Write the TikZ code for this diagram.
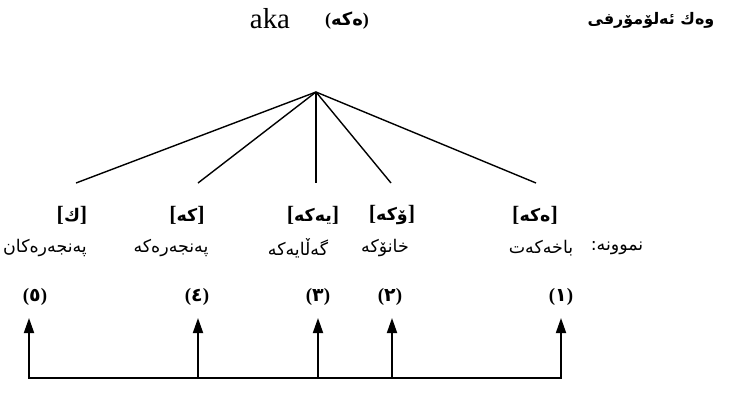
\documentclass[tikz,border=0pt]{standalone}
\usepackage{fontspec}
\setmainfont{Liberation Serif}
\newfontfamily\ar[Script=Arabic]{DejaVu Sans}
\TeXXeTstate=1
\usetikzlibrary{arrows.meta}
\tikzset{
  tree/.style={line width=1.4bp},
  arr/.style={line width=1.8bp,-{Triangle[width=10bp,length=15bp]}},
  base/.style={line width=1.8bp},
  word/.style={inner sep=0pt,font=\fontsize{17.5}{20}\selectfont\ar},
  brk/.style={inner sep=0pt,font=\fontsize{22}{24}\selectfont\bfseries},
  num/.style={inner sep=0pt,font=\fontsize{19}{22}\selectfont\bfseries},
}
\newcommand\brk[1]{[{\fontsize{17.5}{20}\selectfont\ar #1}]}
\begin{document}
\begin{tikzpicture}[x=1bp,y=-1bp]
\useasboundingbox (0,0) rectangle (743,393);
% title
\node[inner sep=0pt,font=\fontsize{29}{32}\selectfont] (aka) at (270,19) {aka};
\node[inner sep=0pt,font=\fontsize{18}{22}\selectfont\bfseries] (akaar) at (347,21) {({\ar ەکە})};
\node[inner sep=0pt,font=\fontsize{16}{20}\selectfont\ar\bfseries] (title) at (651,20) {\beginR وەك ئەلۆمۆرفی\endR};
% tree
\coordinate (apex) at (316,92);
\coordinate (e5) at (76,183);
\coordinate (e4) at (198,183);
\coordinate (e3) at (316,183);
\coordinate (e2) at (391,183);
\coordinate (e1) at (536,183);
\foreach \i in {1,...,5} \draw[tree] (apex) -- (e\i);
% bracket labels
\node[brk] (b5) at (72,215) {\brk{ك}};
\node[brk] (b4) at (187,215) {\brk{کە}};
\node[brk] (b3) at (313,215) {\brk{یەکە}};
\node[brk] (b2) at (392,215) {\brk{ۆکە}};
\node[brk] (b1) at (535,215) {\brk{ەکە}};
% words
\node[word] (w5) at (45,248) {پەنجەرەکان};
\node[word] (w4) at (171,248) {پەنجەرەکە};
\node[word] (w3) at (298,248) {گەڵایەکە};
\node[word] (w2) at (385,248) {خانۆکە};
\node[word] (w1) at (541,248) {باخەکەت};
\node[word] (ex) at (617,248) {\beginR نموونە:\endR};
% numbers
\node[num] (n5) at (35,297) {({\ar ٥})};
\node[num] (n4) at (197,297) {({\ar ٤})};
\node[num] (n3) at (318,297) {({\ar ٣})};
\node[num] (n2) at (390,297) {({\ar ٢})};
\node[num] (n1) at (561,297) {({\ar ١})};
% arrows
\coordinate (c5) at (29,378);
\coordinate (c4) at (198,378);
\coordinate (c3) at (318,378);
\coordinate (c2) at (392,378);
\coordinate (c1) at (561,378);
\draw[base] ([xshift=-0.9bp]c5) -- ([xshift=0.9bp]c1);
\draw[arr] (c5) -- (c5 |- 0,318);
\draw[arr] (c4) -- (c4 |- 0,318);
\draw[arr] (c3) -- (c3 |- 0,318);
\draw[arr] (c2) -- (c2 |- 0,318);
\draw[arr] (c1) -- (c1 |- 0,318);
\end{tikzpicture}
\end{document}
